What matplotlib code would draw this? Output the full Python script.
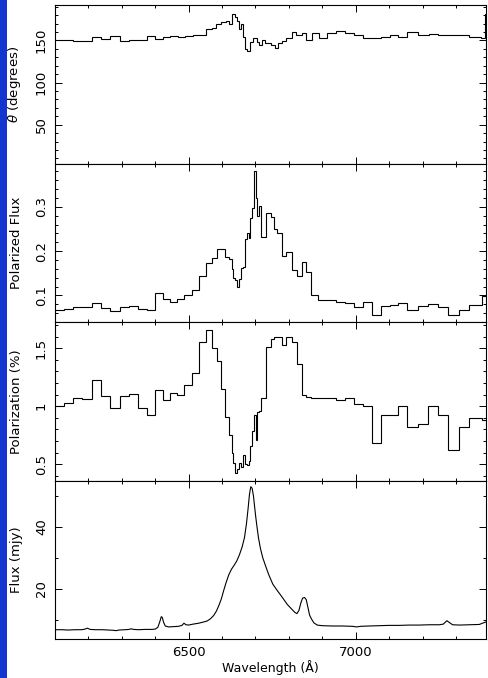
import numpy as np
import matplotlib.pyplot as plt
from matplotlib.ticker import MultipleLocator, FormatStrFormatter
from matplotlib.patches import Rectangle

plt.rcParams['font.family'] = ['DejaVu Sans']
plt.rcParams['font.size'] = 9.5

# ---- position angle (binned) ----
theta_edges = [6100, 6154, 6210, 6237, 6264, 6294, 6322, 6350, 6375, 6399, 6422, 6445,
               6467, 6488, 6512, 6552, 6570, 6582, 6597, 6612, 6622, 6630, 6638, 6644,
               6650, 6656, 6662, 6668, 6674, 6684, 6692, 6704, 6710, 6720, 6730, 6745,
               6758, 6768, 6780, 6792, 6808, 6820, 6838, 6850, 6870, 6890, 6915, 6940,
               6968, 6995, 7022, 7050, 7075, 7102, 7128, 7155, 7185, 7218, 7245, 7340,
               7375, 7388, 7420]
theta_vals = [150, 149, 154.6, 152, 155.8, 149, 150.4, 150, 155.4, 152, 154, 155.8,
              153.5, 155, 156.2, 163.6, 165, 169, 172, 173, 170, 181, 178, 173,
              163, 169, 153.5, 140, 137.6, 147.7, 152.3, 147.7, 144, 151, 146.5, 145,
              141.5, 147.3, 149.2, 152.3, 160, 156, 159.3, 151, 159, 152.3, 159, 161.2,
              158.5, 157, 153, 152.3, 154, 156.6, 154.6, 160.5, 156, 157.7, 156.6, 154.6,
              152.3, 181]

# ---- polarized flux and polarization (same bins) ----
pol_edges = [6100, 6127, 6154, 6182, 6210, 6237, 6265, 6294, 6322, 6348, 6374, 6399,
             6422, 6444, 6464, 6487, 6510, 6532, 6552, 6569, 6584, 6597, 6610, 6622,
             6630, 6634, 6638, 6644, 6650, 6656, 6662, 6668, 6674, 6680, 6685, 6690,
             6695, 6701, 6706, 6712, 6718, 6732, 6745, 6755, 6765, 6780, 6792, 6808,
             6823, 6838, 6852, 6867, 6888, 6942, 6968, 6995, 7022, 7048, 7075, 7102,
             7128, 7155, 7185, 7215, 7245, 7275, 7308, 7338, 7378, 7420]
pflux_vals = [0.066, 0.069, 0.073, 0.075, 0.082, 0.071, 0.064, 0.075, 0.0765, 0.069, 0.067, 0.105,
              0.092, 0.085, 0.092, 0.100, 0.112, 0.145, 0.174, 0.184, 0.205, 0.204, 0.186, 0.183,
              0.16, 0.139, 0.134, 0.12, 0.136, 0.161, 0.164, 0.227, 0.242, 0.23, 0.276, 0.298,
              0.382, 0.319, 0.28, 0.302, 0.233, 0.286, 0.278, 0.251, 0.240, 0.19, 0.198, 0.158,
              0.145, 0.175, 0.154, 0.10, 0.089, 0.086, 0.083, 0.074, 0.086, 0.055, 0.076, 0.079,
              0.083, 0.067, 0.076, 0.081, 0.074, 0.055, 0.068, 0.078, 0.099]
polz_vals = [1.0, 1.029, 1.072, 1.066, 1.223, 1.086, 0.986, 1.086, 1.109, 0.986, 0.923, 1.138,
             1.057, 1.115, 1.095, 1.18, 1.287, 1.55, 1.659, 1.5, 1.387, 1.149, 0.905, 0.756,
             0.599, 0.507, 0.427, 0.456, 0.51, 0.479, 0.576, 0.499, 0.493, 0.527, 0.656, 0.785,
             0.928, 0.708, 0.948, 0.957, 1.072, 1.51, 1.58, 1.6, 1.6, 1.53, 1.6, 1.55,
             1.36, 1.1, 1.08, 1.07, 1.07, 1.05, 1.07, 1.02, 1.0, 0.68, 0.92, 0.92,
             1.0, 0.82, 0.85, 1.0, 0.92, 0.62, 0.82, 0.9, 0.88]

# ---- total flux spectrum ----
wave = [6100, 6120, 6140, 6160, 6180, 6190, 6197, 6205, 6220, 6240, 6260, 6275, 6283, 6292,
        6310, 6322, 6328, 6335, 6350, 6370, 6390, 6400, 6408, 6414, 6418, 6421, 6425, 6430,
        6440, 6455, 6470, 6480, 6486, 6492, 6500, 6513, 6530, 6545, 6555, 6565, 6575, 6583,
        6590, 6598, 6605, 6612, 6620, 6628, 6636, 6644, 6652, 6660, 6667, 6673, 6678, 6682,
        6686, 6690, 6694, 6697, 6700, 6704, 6709, 6715, 6722, 6730, 6740, 6752, 6765, 6780,
        6795, 6808, 6818, 6824, 6830, 6836, 6841, 6847, 6852, 6857, 6862, 6868, 6875, 6885,
        6900, 6930, 6960, 6990, 7003, 7015, 7040, 7070, 7100, 7130, 7160, 7190, 7220, 7250,
        7262, 7273, 7282, 7290, 7310, 7340, 7370, 7382, 7390]
flux = [6.8, 6.8, 6.7, 6.8, 6.8, 7.0, 7.3, 6.9, 6.8, 6.8, 6.7, 6.6, 6.5, 6.7,
        6.8, 6.9, 7.1, 6.9, 6.8, 6.9, 6.9, 7.0, 7.6, 9.5, 11.0, 10.8, 9.2, 8.0,
        7.7, 7.8, 7.9, 8.2, 8.9, 8.4, 8.3, 8.6, 8.9, 9.3, 9.6, 10.3, 11.4, 12.8,
        14.5, 16.8, 19.5, 22.0, 24.5, 26.3, 27.6, 29.0, 31.0, 33.5, 36.5, 41.0, 46.0, 50.5,
        53.0, 52.5, 50.0, 47.0, 44.0, 40.5, 36.5, 33.0, 30.0, 27.5, 24.5, 21.5, 19.5, 17.3,
        15.0, 13.5, 12.4, 12.0, 13.0, 15.5, 17.0, 17.2, 16.5, 14.0, 11.5, 10.2, 9.0, 8.3,
        8.1, 8.0, 8.0, 7.9, 7.7, 7.9, 8.0, 8.1, 8.2, 8.2, 8.3, 8.3, 8.4, 8.4,
        8.6, 9.7, 9.0, 8.4, 8.3, 8.4, 8.5, 9.0, 9.3]

fig, axes = plt.subplots(4, 1, sharex=True, figsize=(4.88, 6.78), dpi=100)
fig.subplots_adjust(left=55/488, right=486/488, top=1-5/678, bottom=1-639/678, hspace=0)

# blue strip at the left edge
fig.patches.append(Rectangle((0, 0), 7/488, 1, transform=fig.transFigure,
                             facecolor='#1236d0', edgecolor='none', zorder=-1))

ax1, ax2, ax3, ax4 = axes
ax1.stairs(theta_vals, theta_edges, baseline=None, color='k', lw=0.8)
ax2.stairs(pflux_vals, pol_edges, baseline=None, color='k', lw=0.8)
ax3.stairs(polz_vals, pol_edges, baseline=None, color='k', lw=0.8)
ax4.plot(wave, flux, color='k', lw=0.8)

ax1.set_ylim(4, 192)
ax2.set_ylim(0.04, 0.398)
ax3.set_ylim(0.36, 1.725)
ax4.set_ylim(3.8, 55)
ax4.set_xlim(6100, 7390)

ylabels = [r'$\theta$ (degrees)', 'Polarized Flux', 'Polarization (%)', 'Flux (mjy)']
majors = [50, 0.1, 0.5, 20]
minors = [10, 0.02, 0.1, 10]
for ax, lab, mj, mn in zip(axes, ylabels, majors, minors):
    ax.yaxis.set_major_locator(MultipleLocator(mj))
    ax.yaxis.set_minor_locator(MultipleLocator(mn))
    ax.yaxis.set_major_formatter(FormatStrFormatter('%g'))
    ax.xaxis.set_major_locator(MultipleLocator(500))
    ax.xaxis.set_minor_locator(MultipleLocator(100))
    ax.tick_params(which='both', direction='in', top=True, right=True, width=0.7)
    ax.tick_params(which='major', length=5)
    ax.tick_params(which='minor', length=2.5)
    ax.tick_params(axis='y', labelrotation=90, pad=5)
    for t in ax.get_yticklabels():
        t.set_va('center')
    for s in ax.spines.values():
        s.set_linewidth(0.8)
    ax.set_ylabel(lab)
    ax.yaxis.set_label_coords(-0.075, 0.5)

ax4.tick_params(axis='x', pad=5)
ax4.set_xlabel('Wavelength (Å)', labelpad=1, fontsize=9)

fig.savefig('out.png', dpi=100)
